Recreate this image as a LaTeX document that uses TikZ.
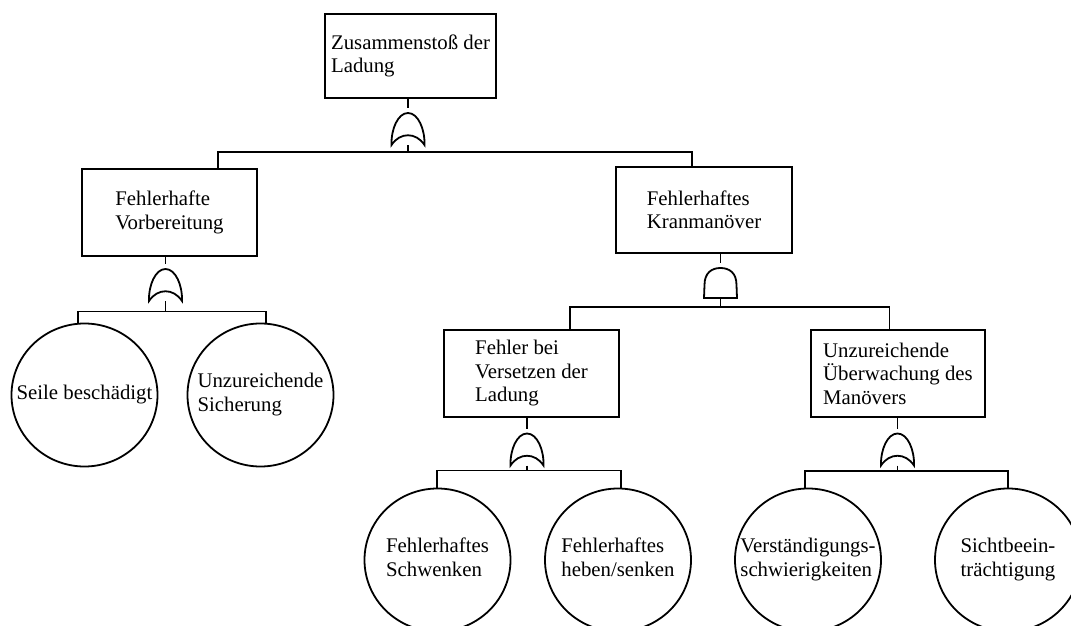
\documentclass[tikz,border=0pt]{standalone}
\usepackage{fontspec}
\setmainfont{Liberation Serif}
\usetikzlibrary{shapes.geometric}
\newcommand\fsz{\fontsize{20.8}{23.5}\selectfont}
\newcommand\zwbox[1]{\makebox[0pt]{\begin{tabular}{@{}l@{}}#1\end{tabular}}}
\begin{document}
\begin{tikzpicture}[x=1pt,y=-1pt,line width=1.8pt,
  evbox/.style={draw,rectangle,align=left,inner sep=0pt,font=\fsz},
  evcirc/.style={draw,ellipse,minimum width=146,minimum height=143,inner sep=0pt,font=\fsz},
  orgate/.pic={
    \draw (-16.5,16) .. controls (-17,0) and (-10,-16) .. (0,-16)
          .. controls (10,-16) and (17,0) .. (16.5,16)
          .. controls (8,3) and (-8,3) .. cycle;
    \coordinate (-in) at (0,-21);
    \coordinate (-out) at (0,16);
  },
  andgate/.pic={
    \draw (-16.5,15) -- (-16,2) .. controls (-16,-10) and (-9,-15) .. (0,-15)
          .. controls (9,-15) and (16,-10) .. (16,2) -- (16.5,15) -- cycle;
    \coordinate (-in) at (0,-20);
    \coordinate (-out) at (0,15);
  }]
\path[use as bounding box,fill=white] (0,0) rectangle (1071,626);
\clip (0,0) rectangle (1071,626);

% events (boxes)
\node[evbox,minimum width=171,minimum height=84] (top) at (410.5,56) {Zusammenstoß der\\Ladung};
\node[evbox,minimum width=175,minimum height=87] (vorb) at (169.5,212.5) {Fehlerhafte\\Vorbereitung};
\node[evbox,minimum width=176,minimum height=86] (kran) at (704,210) {Fehlerhaftes\\Kranmanöver};
\node[evbox,minimum width=175,minimum height=87] (vers) at (531.5,373.5) {Fehler bei\\Versetzen der\\Ladung};
\node[evbox,minimum width=174,minimum height=87] (ueber) at (898,373.5) {Unzureichende\\Überwachung des\\Manövers};

% basic events (circles)
\node[evcirc] (seile) at (84.5,395) {\zwbox{Seile beschädigt}};
\node[evcirc] (sich) at (260.5,395) {\zwbox{Unzureichende\\Sicherung}};
\node[evcirc] (schw) at (437.5,560) {\zwbox{Fehlerhaftes\\Schwenken}};
\node[evcirc] (heben) at (618,560) {\zwbox{Fehlerhaftes\\heben/senken}};
\node[evcirc] (verst) at (808,560) {\zwbox{Verständigungs-\\schwierigkeiten}};
\node[evcirc] (sicht) at (1008,560) {\zwbox{Sichtbeein-\\trächtigung}};

% gates
\pic (g1) at (408,129) {orgate};
\pic (g2) at (165.5,285) {orgate};
\pic (g3) at (720.5,283) {andgate};
\pic (g4) at (527,449.5) {orgate};
\pic (g5) at (897.5,449.5) {orgate};

% bar end points
\coordinate (b1L) at (218,152);   \coordinate (b1R) at (692,152);
\coordinate (b2L) at (78,311.5);  \coordinate (b2R) at (266,311.5);
\coordinate (b3L) at (570,307);   \coordinate (b3R) at (889.5,307);
\coordinate (b4L) at (437,470.5); \coordinate (b4R) at (621,470.5);
\coordinate (b5L) at (805,471);   \coordinate (b5R) at (1008,471);

% connectors
\draw (top.south -| g1-in) -- (g1-in);
\draw (g1-out) -- (g1-out |- b1L);
\draw (vorb.north -| b1L) -- (b1L) -- (b1R) -- (kran.north -| b1R);

\draw (vorb.south -| g2-in) -- (g2-in);
\draw (g2-out) -- (g2-out |- b2L);
\draw (seile.north -| b2L) -- (b2L) -- (b2R) -- (sich.north -| b2R);

\draw (kran.south -| g3-in) -- (g3-in);
\draw (g3-out) -- (g3-out |- b3L);
\draw (vers.north -| b3L) -- (b3L) -- (b3R) -- (ueber.north -| b3R);

\draw (vers.south -| g4-in) -- (g4-in);
\draw (g4-out) -- (g4-out |- b4L);
\draw (schw.north -| b4L) -- (b4L) -- (b4R) -- (heben.north -| b4R);

\draw (ueber.south -| g5-in) -- (g5-in);
\draw (g5-out) -- (g5-out |- b5L);
\draw (verst.north -| b5L) -- (b5L) -- (b5R) -- (sicht.north -| b5R);
\end{tikzpicture}
\end{document}
